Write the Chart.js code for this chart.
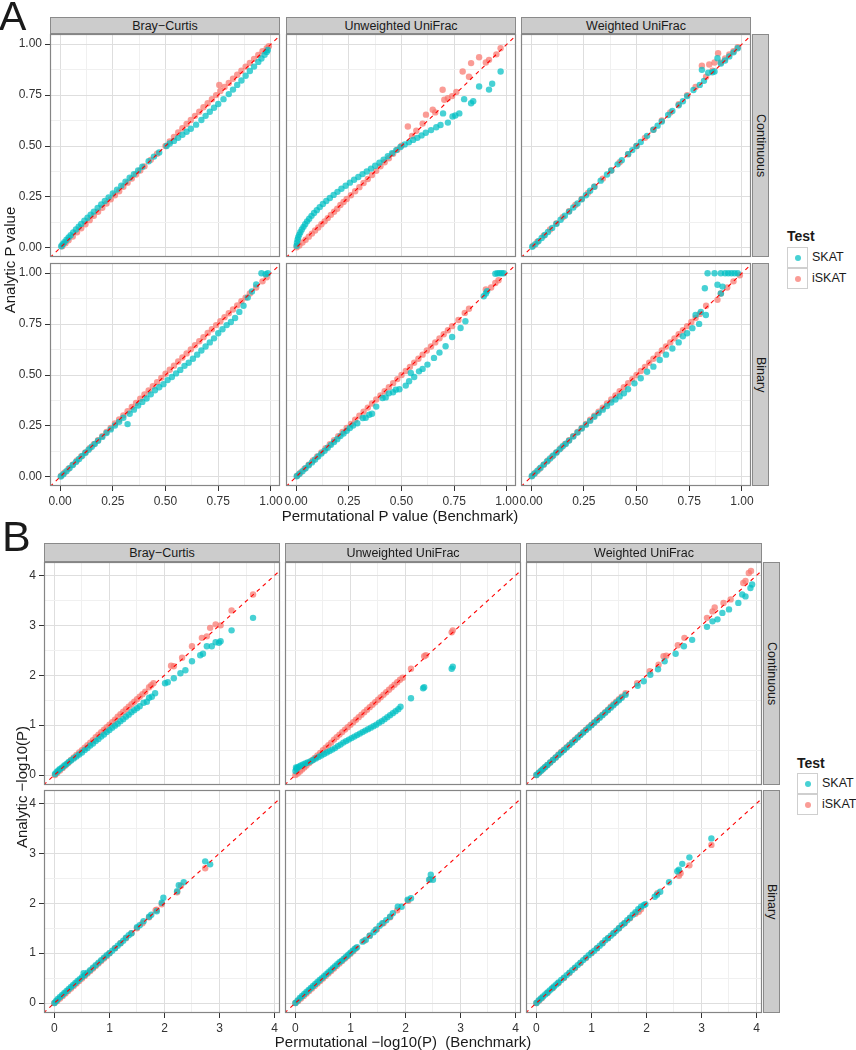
<!DOCTYPE html>
<html>
<head>
<meta charset="utf-8">
<script src="https://cdn.jsdelivr.net/npm/chart.js@4.4.1/dist/chart.umd.min.js"></script>
<style>
  body { margin: 0; width: 856px; height: 1050px; position: relative; overflow: hidden; background: #fff;
         font-family: "Liberation Sans", Arial, sans-serif; color: #1a1a1a; }
  canvas { position: absolute; }
  .t { position: absolute; white-space: nowrap; }
  .strip { position: absolute; box-sizing: border-box; background: #cccccc; border: 1px solid #8a8a8a;
           font-size: 12.5px; display: flex; align-items: center; justify-content: center; }
  .vstrip { writing-mode: vertical-rl; }
  .key { position: absolute; box-sizing: border-box; width: 21px; height: 21px; border: 1px solid #cfcfcf; background: #fff; }
  .dot { position: absolute; width: 6px; height: 6px; border-radius: 50%; left: 7px; top: 7px; }
</style>
</head>
<body>
<script>
// facet labels and ticks
const methods = ["Bray\u2212Curtis", "Unweighted UniFrac", "Weighted UniFrac"];
const outcomes = ["Continuous", "Binary"];
const testNames = ["SKAT", "iSKAT"];
const pTicks = [0, 0.25, 0.5, 0.75, 1];
const pTickLabels = ["0.00", "0.25", "0.50", "0.75", "1.00"];
const logTicks = [0, 1, 2, 3, 4];
const logTickLabels = ["0", "1", "2", "3", "4"];

// A: P values, continuous outcome
const aBcContSkat = [[0.005,0.008],[0.012,0.018],[0.02,0.028],[0.03,0.04],[0.04,0.051],[0.05,0.062],[0.062,0.076],[0.075,0.09],[0.088,0.104],[0.1,0.117],[0.115,0.133],[0.13,0.148],[0.145,0.163],[0.16,0.178],[0.178,0.196],[0.195,0.213],[0.212,0.23],[0.23,0.248],[0.25,0.267],[0.27,0.286],[0.29,0.305],[0.31,0.325],[0.33,0.344],[0.35,0.362],[0.37,0.38],[0.39,0.398],[0.42,0.425],[0.445,0.448],[0.47,0.468],[0.505,0.5],[0.52,0.512],[0.54,0.525],[0.56,0.54],[0.58,0.555],[0.6,0.57],[0.62,0.585],[0.645,0.605],[0.67,0.628],[0.69,0.648],[0.71,0.668],[0.73,0.688],[0.75,0.706],[0.775,0.73],[0.8,0.755],[0.82,0.777],[0.84,0.8],[0.86,0.822],[0.88,0.845],[0.9,0.868],[0.92,0.89],[0.94,0.913],[0.955,0.93],[0.97,0.948],[0.98,0.962],[0.985,0.972]];
const aBcContIskat = [[0.01,0.008],[0.025,0.022],[0.04,0.037],[0.06,0.056],[0.08,0.076],[0.1,0.096],[0.12,0.116],[0.14,0.136],[0.16,0.157],[0.18,0.177],[0.2,0.197],[0.22,0.218],[0.24,0.238],[0.26,0.258],[0.28,0.278],[0.3,0.3],[0.32,0.32],[0.34,0.34],[0.36,0.36],[0.38,0.38],[0.4,0.4],[0.43,0.432],[0.46,0.462],[0.5,0.5],[0.52,0.522],[0.54,0.545],[0.56,0.566],[0.58,0.587],[0.6,0.608],[0.62,0.628],[0.64,0.648],[0.66,0.668],[0.68,0.69],[0.7,0.71],[0.72,0.73],[0.74,0.75],[0.755,0.8],[0.76,0.77],[0.78,0.79],[0.8,0.81],[0.82,0.83],[0.84,0.85],[0.86,0.87],[0.88,0.89],[0.9,0.908],[0.92,0.928],[0.94,0.947],[0.96,0.965],[0.98,0.98],[0.99,0.99]];
const aUuContSkat = [[0.002,0.01],[0.004,0.025],[0.007,0.04],[0.01,0.052],[0.015,0.065],[0.02,0.077],[0.027,0.09],[0.035,0.103],[0.043,0.116],[0.052,0.13],[0.062,0.143],[0.073,0.157],[0.085,0.171],[0.098,0.185],[0.112,0.2],[0.127,0.215],[0.143,0.23],[0.16,0.245],[0.178,0.26],[0.196,0.275],[0.215,0.29],[0.235,0.305],[0.255,0.32],[0.275,0.334],[0.295,0.348],[0.315,0.362],[0.335,0.375],[0.355,0.389],[0.375,0.403],[0.395,0.418],[0.415,0.433],[0.435,0.45],[0.455,0.465],[0.475,0.48],[0.495,0.495],[0.515,0.508],[0.535,0.518],[0.555,0.53],[0.575,0.54],[0.595,0.552],[0.615,0.565],[0.64,0.578],[0.665,0.592],[0.685,0.603],[0.697,0.66],[0.72,0.615],[0.742,0.645],[0.755,0.65],[0.774,0.66],[0.797,0.73],[0.83,0.71],[0.84,0.72],[0.868,0.792],[0.915,0.777],[0.93,0.806],[0.97,0.866]];
const aUuContIskat = [[0.003,0.003],[0.015,0.012],[0.03,0.026],[0.045,0.04],[0.06,0.055],[0.075,0.07],[0.09,0.085],[0.105,0.1],[0.12,0.116],[0.135,0.13],[0.15,0.146],[0.165,0.162],[0.18,0.177],[0.195,0.192],[0.21,0.21],[0.225,0.225],[0.24,0.24],[0.26,0.258],[0.28,0.278],[0.3,0.298],[0.32,0.318],[0.34,0.338],[0.36,0.358],[0.38,0.378],[0.4,0.4],[0.42,0.42],[0.44,0.44],[0.46,0.462],[0.48,0.482],[0.5,0.502],[0.53,0.596],[0.55,0.55],[0.57,0.575],[0.6,0.61],[0.616,0.654],[0.648,0.678],[0.66,0.665],[0.695,0.776],[0.703,0.727],[0.72,0.735],[0.74,0.745],[0.76,0.765],[0.79,0.866],[0.82,0.84],[0.83,0.907],[0.868,0.936],[0.9,0.91],[0.915,0.923],[0.95,0.95],[0.97,0.98]];
const aWuContSkat = [[0.005,0.005],[0.02,0.018],[0.035,0.033],[0.05,0.048],[0.065,0.063],[0.08,0.078],[0.1,0.098],[0.12,0.118],[0.14,0.138],[0.16,0.158],[0.18,0.178],[0.2,0.198],[0.22,0.218],[0.24,0.238],[0.26,0.258],[0.28,0.28],[0.3,0.3],[0.33,0.33],[0.36,0.36],[0.38,0.38],[0.41,0.41],[0.43,0.43],[0.46,0.46],[0.48,0.48],[0.5,0.5],[0.52,0.52],[0.55,0.55],[0.58,0.58],[0.6,0.6],[0.62,0.62],[0.65,0.652],[0.67,0.672],[0.7,0.7],[0.72,0.72],[0.74,0.745],[0.77,0.775],[0.8,0.8],[0.81,0.874],[0.82,0.82],[0.84,0.86],[0.86,0.862],[0.87,0.866],[0.884,0.931],[0.9,0.905],[0.92,0.92],[0.94,0.94],[0.96,0.96],[0.98,0.98]];
const aWuContIskat = [[0.01,0.01],[0.03,0.03],[0.06,0.06],[0.09,0.09],[0.12,0.12],[0.15,0.15],[0.18,0.18],[0.21,0.21],[0.24,0.24],[0.27,0.27],[0.3,0.3],[0.34,0.34],[0.38,0.38],[0.42,0.42],[0.46,0.46],[0.5,0.5],[0.54,0.54],[0.58,0.58],[0.62,0.625],[0.66,0.665],[0.7,0.705],[0.74,0.75],[0.78,0.79],[0.81,0.894],[0.83,0.84],[0.845,0.9],[0.86,0.87],[0.87,0.91],[0.887,0.956],[0.9,0.91],[0.92,0.93],[0.94,0.95],[0.96,0.965],[0.98,0.985]];

// A: P values, binary outcome
const aBcBinSkat = [[0.003,0.002],[0.015,0.013],[0.03,0.028],[0.045,0.043],[0.06,0.058],[0.075,0.073],[0.09,0.088],[0.105,0.103],[0.12,0.118],[0.135,0.133],[0.15,0.148],[0.165,0.162],[0.18,0.177],[0.2,0.196],[0.22,0.215],[0.24,0.233],[0.26,0.252],[0.28,0.27],[0.3,0.29],[0.32,0.259],[0.33,0.31],[0.35,0.33],[0.37,0.35],[0.39,0.368],[0.41,0.385],[0.43,0.405],[0.45,0.425],[0.47,0.44],[0.49,0.455],[0.51,0.475],[0.53,0.49],[0.55,0.508],[0.57,0.525],[0.59,0.545],[0.61,0.56],[0.63,0.58],[0.65,0.6],[0.67,0.62],[0.69,0.64],[0.71,0.66],[0.73,0.68],[0.75,0.705],[0.77,0.725],[0.79,0.745],[0.81,0.76],[0.83,0.78],[0.85,0.81],[0.87,0.84],[0.89,0.88],[0.91,0.91],[0.93,0.945],[0.955,1.0],[0.975,0.995],[0.985,1.0]];
const aBcBinIskat = [[0.005,0.005],[0.02,0.02],[0.04,0.04],[0.06,0.06],[0.08,0.08],[0.1,0.1],[0.12,0.12],[0.14,0.14],[0.16,0.16],[0.18,0.18],[0.2,0.2],[0.22,0.22],[0.24,0.24],[0.26,0.262],[0.28,0.282],[0.3,0.302],[0.32,0.322],[0.34,0.343],[0.36,0.363],[0.38,0.384],[0.4,0.404],[0.42,0.424],[0.44,0.445],[0.46,0.465],[0.48,0.486],[0.5,0.506],[0.52,0.526],[0.54,0.546],[0.56,0.566],[0.58,0.586],[0.6,0.606],[0.62,0.626],[0.64,0.646],[0.66,0.666],[0.68,0.686],[0.7,0.706],[0.72,0.725],[0.74,0.745],[0.76,0.764],[0.78,0.784],[0.8,0.803],[0.82,0.822],[0.84,0.842],[0.86,0.862],[0.88,0.88],[0.9,0.9],[0.93,0.93],[0.96,0.96],[0.98,0.98]];
const aUuBinSkat = [[0.003,0.003],[0.015,0.014],[0.03,0.028],[0.045,0.042],[0.06,0.057],[0.075,0.071],[0.09,0.085],[0.105,0.1],[0.12,0.114],[0.135,0.128],[0.15,0.143],[0.165,0.157],[0.18,0.171],[0.195,0.185],[0.21,0.2],[0.225,0.213],[0.24,0.226],[0.255,0.24],[0.27,0.252],[0.29,0.263],[0.316,0.289],[0.33,0.29],[0.347,0.305],[0.36,0.31],[0.38,0.345],[0.41,0.387],[0.425,0.39],[0.44,0.41],[0.46,0.415],[0.473,0.428],[0.49,0.43],[0.52,0.448],[0.536,0.469],[0.544,0.51],[0.56,0.49],[0.583,0.518],[0.6,0.53],[0.623,0.551],[0.654,0.584],[0.68,0.61],[0.709,0.641],[0.74,0.687],[0.78,0.731],[0.803,0.764],[0.89,0.887],[0.9,0.9],[0.906,0.912],[0.945,0.997],[0.955,1.0],[0.965,1.0],[0.975,1.0],[0.985,1.0]];
const aUuBinIskat = [[0.005,0.005],[0.02,0.02],[0.04,0.04],[0.06,0.06],[0.08,0.08],[0.1,0.1],[0.12,0.12],[0.14,0.14],[0.16,0.16],[0.18,0.18],[0.2,0.2],[0.22,0.22],[0.24,0.24],[0.26,0.26],[0.28,0.28],[0.3,0.3],[0.32,0.32],[0.34,0.34],[0.36,0.36],[0.38,0.38],[0.4,0.4],[0.42,0.42],[0.44,0.44],[0.46,0.46],[0.48,0.48],[0.5,0.5],[0.52,0.52],[0.54,0.54],[0.56,0.56],[0.58,0.58],[0.6,0.6],[0.62,0.62],[0.64,0.64],[0.66,0.66],[0.68,0.68],[0.7,0.7],[0.72,0.72],[0.74,0.74],[0.77,0.77],[0.8,0.805],[0.82,0.825],[0.9,0.92],[0.925,0.93],[0.945,0.952],[0.96,0.965]];
const aWuBinSkat = [[0.003,0.003],[0.015,0.015],[0.03,0.03],[0.045,0.045],[0.06,0.06],[0.075,0.075],[0.09,0.09],[0.105,0.105],[0.12,0.12],[0.135,0.135],[0.15,0.15],[0.165,0.163],[0.18,0.178],[0.2,0.198],[0.22,0.218],[0.24,0.237],[0.26,0.256],[0.28,0.275],[0.3,0.295],[0.32,0.313],[0.34,0.33],[0.36,0.348],[0.38,0.365],[0.4,0.38],[0.42,0.395],[0.44,0.41],[0.46,0.43],[0.49,0.459],[0.52,0.484],[0.55,0.516],[0.58,0.541],[0.61,0.574],[0.64,0.6],[0.67,0.63],[0.7,0.66],[0.72,0.69],[0.74,0.705],[0.765,0.73],[0.78,0.795],[0.797,0.751],[0.805,0.81],[0.824,0.926],[0.829,0.795],[0.837,1.0],[0.87,1.0],[0.884,0.943],[0.9,1.0],[0.9,0.9],[0.908,0.934],[0.92,1.0],[0.935,1.0],[0.95,1.0],[0.965,1.0],[0.98,1.0]];
const aWuBinIskat = [[0.005,0.005],[0.02,0.02],[0.04,0.04],[0.06,0.06],[0.08,0.08],[0.1,0.1],[0.12,0.12],[0.14,0.14],[0.16,0.16],[0.18,0.18],[0.2,0.2],[0.22,0.22],[0.24,0.24],[0.26,0.26],[0.28,0.28],[0.3,0.3],[0.32,0.32],[0.34,0.34],[0.36,0.36],[0.38,0.38],[0.4,0.4],[0.42,0.42],[0.44,0.44],[0.46,0.46],[0.48,0.48],[0.5,0.5],[0.52,0.52],[0.54,0.54],[0.56,0.56],[0.58,0.58],[0.6,0.6],[0.62,0.62],[0.64,0.64],[0.66,0.66],[0.68,0.68],[0.7,0.7],[0.72,0.72],[0.74,0.74],[0.76,0.76],[0.78,0.78],[0.8,0.8],[0.83,0.84],[0.884,0.869],[0.9,0.9],[0.93,0.93],[0.96,0.96],[0.99,0.99]];

// B: -log10(P), continuous outcome
const bBcContSkat = [[0.01,0.02],[0.04,0.06],[0.07,0.09],[0.1,0.12],[0.14,0.15],[0.18,0.19],[0.22,0.22],[0.26,0.26],[0.3,0.29],[0.35,0.33],[0.4,0.37],[0.45,0.41],[0.5,0.45],[0.55,0.5],[0.6,0.54],[0.65,0.59],[0.7,0.63],[0.75,0.68],[0.8,0.72],[0.85,0.77],[0.9,0.81],[0.95,0.86],[1.0,0.9],[1.05,0.95],[1.1,0.99],[1.15,1.03],[1.2,1.08],[1.25,1.12],[1.3,1.17],[1.35,1.21],[1.4,1.26],[1.45,1.3],[1.5,1.34],[1.55,1.38],[1.62,1.45],[1.68,1.47],[1.72,1.55],[1.77,1.57],[1.83,1.64],[2.01,1.84],[2.06,1.86],[2.17,1.94],[2.29,2.04],[2.38,2.1],[2.5,2.28],[2.65,2.4],[2.7,2.43],[2.77,2.58],[2.86,2.58],[2.93,2.66],[2.99,2.65],[3.02,2.68],[3.22,2.9],[3.61,3.15]];
const bBcContIskat = [[0.01,0.0],[0.05,0.04],[0.1,0.09],[0.15,0.14],[0.2,0.19],[0.25,0.24],[0.3,0.3],[0.35,0.35],[0.4,0.4],[0.45,0.45],[0.5,0.5],[0.55,0.55],[0.6,0.6],[0.65,0.65],[0.7,0.7],[0.75,0.76],[0.8,0.81],[0.85,0.86],[0.9,0.91],[0.95,0.96],[1.0,1.01],[1.05,1.06],[1.1,1.11],[1.15,1.17],[1.2,1.22],[1.25,1.27],[1.3,1.32],[1.35,1.37],[1.4,1.42],[1.45,1.47],[1.5,1.52],[1.55,1.57],[1.6,1.62],[1.65,1.67],[1.72,1.76],[1.76,1.8],[1.8,1.84],[2.12,2.19],[2.17,2.18],[2.32,2.35],[2.5,2.58],[2.68,2.75],[2.77,2.78],[2.83,2.95],[2.93,3.02],[3.02,3.0],[3.22,3.3],[3.61,3.62]];
const bUuContSkat = [[0.0,0.08],[0.01,0.15],[0.02,0.12],[0.04,0.15],[0.07,0.17],[0.1,0.19],[0.14,0.21],[0.18,0.23],[0.22,0.25],[0.27,0.27],[0.32,0.3],[0.37,0.33],[0.42,0.36],[0.47,0.39],[0.52,0.42],[0.57,0.45],[0.62,0.48],[0.67,0.51],[0.72,0.54],[0.77,0.58],[0.82,0.61],[0.87,0.65],[0.92,0.68],[0.97,0.71],[1.02,0.74],[1.07,0.77],[1.12,0.8],[1.17,0.83],[1.22,0.86],[1.27,0.89],[1.32,0.92],[1.37,0.95],[1.42,0.98],[1.47,1.01],[1.52,1.05],[1.57,1.08],[1.62,1.12],[1.67,1.16],[1.72,1.2],[1.77,1.24],[1.82,1.28],[1.87,1.32],[1.91,1.37],[2.1,1.54],[2.32,1.74],[2.34,1.76],[2.84,2.13],[2.86,2.17]];
const bUuContIskat = [[0.0,0.0],[0.04,0.03],[0.08,0.07],[0.12,0.11],[0.16,0.15],[0.2,0.19],[0.25,0.24],[0.3,0.29],[0.35,0.34],[0.4,0.39],[0.45,0.44],[0.5,0.5],[0.55,0.55],[0.6,0.6],[0.65,0.65],[0.7,0.71],[0.75,0.76],[0.8,0.81],[0.85,0.86],[0.9,0.91],[0.95,0.96],[1.0,1.01],[1.05,1.06],[1.1,1.11],[1.15,1.16],[1.2,1.21],[1.25,1.26],[1.3,1.31],[1.35,1.36],[1.4,1.41],[1.45,1.46],[1.5,1.51],[1.55,1.56],[1.6,1.61],[1.65,1.66],[1.7,1.71],[1.75,1.76],[1.8,1.81],[1.85,1.86],[1.9,1.91],[1.95,1.95],[2.1,2.13],[2.34,2.38],[2.37,2.4],[2.84,2.86],[2.86,2.9]];
const bWuContSkat = [[0.0,0.0],[0.04,0.04],[0.08,0.08],[0.12,0.12],[0.16,0.16],[0.2,0.2],[0.25,0.25],[0.3,0.3],[0.35,0.35],[0.4,0.4],[0.45,0.45],[0.5,0.5],[0.55,0.55],[0.6,0.6],[0.65,0.65],[0.7,0.7],[0.75,0.75],[0.8,0.8],[0.85,0.85],[0.9,0.9],[0.95,0.95],[1.0,1.0],[1.05,1.05],[1.1,1.1],[1.15,1.15],[1.2,1.2],[1.25,1.25],[1.3,1.3],[1.35,1.35],[1.4,1.4],[1.45,1.45],[1.5,1.5],[1.55,1.55],[1.62,1.61],[1.84,1.79],[1.95,1.88],[2.07,2.01],[2.21,2.12],[2.33,2.28],[2.53,2.43],[2.68,2.58],[2.83,2.71],[3.1,2.97],[3.2,3.08],[3.29,3.12],[3.38,3.25],[3.5,3.32],[3.67,3.45],[3.74,3.62],[3.8,3.58],[3.89,3.75],[3.92,3.82]];
const bWuContIskat = [[0.0,0.0],[0.05,0.05],[0.1,0.1],[0.15,0.15],[0.2,0.2],[0.25,0.25],[0.3,0.3],[0.35,0.35],[0.4,0.41],[0.45,0.46],[0.5,0.51],[0.55,0.56],[0.6,0.61],[0.65,0.66],[0.7,0.71],[0.75,0.76],[0.8,0.81],[0.85,0.86],[0.9,0.91],[0.95,0.96],[1.0,1.01],[1.05,1.06],[1.1,1.11],[1.15,1.16],[1.2,1.21],[1.25,1.26],[1.3,1.31],[1.35,1.37],[1.4,1.42],[1.45,1.47],[1.5,1.52],[1.55,1.57],[1.62,1.64],[1.83,1.84],[2.06,2.08],[2.22,2.21],[2.31,2.38],[2.36,2.39],[2.57,2.6],[2.69,2.75],[3.1,3.15],[3.2,3.28],[3.24,3.36],[3.4,3.45],[3.53,3.52],[3.76,3.85],[3.8,3.89],[3.86,4.05],[3.9,4.09]];

// B: -log10(P), binary outcome
const bBcBinSkat = [[0.0,0.0],[0.03,0.04],[0.06,0.08],[0.1,0.12],[0.14,0.16],[0.18,0.2],[0.22,0.24],[0.26,0.28],[0.3,0.32],[0.34,0.36],[0.38,0.4],[0.42,0.44],[0.46,0.48],[0.5,0.52],[0.53,0.6],[0.55,0.56],[0.6,0.61],[0.65,0.66],[0.7,0.71],[0.75,0.76],[0.8,0.81],[0.85,0.86],[0.9,0.91],[0.95,0.96],[1.0,1.0],[1.05,1.05],[1.1,1.1],[1.15,1.15],[1.2,1.2],[1.25,1.25],[1.3,1.31],[1.35,1.36],[1.4,1.4],[1.5,1.52],[1.55,1.56],[1.62,1.64],[1.72,1.73],[1.76,1.77],[1.86,1.84],[1.95,2.01],[1.98,2.11],[2.23,2.24],[2.26,2.36],[2.35,2.42],[2.74,2.84],[2.83,2.78]];
const bBcBinIskat = [[0.0,0.0],[0.05,0.04],[0.1,0.09],[0.15,0.14],[0.2,0.19],[0.25,0.24],[0.3,0.29],[0.35,0.34],[0.4,0.39],[0.45,0.44],[0.5,0.49],[0.55,0.54],[0.6,0.59],[0.65,0.64],[0.7,0.69],[0.75,0.74],[0.8,0.79],[0.85,0.84],[0.9,0.89],[0.95,0.94],[1.0,1.0],[1.1,1.1],[1.2,1.2],[1.3,1.3],[1.4,1.4],[1.5,1.5],[1.6,1.6],[1.72,1.72],[1.84,1.86],[1.86,1.87],[1.95,1.98],[2.23,2.22],[2.3,2.35],[2.74,2.7]];
const bUuBinSkat = [[0.0,0.0],[0.04,0.05],[0.08,0.1],[0.12,0.14],[0.16,0.18],[0.2,0.22],[0.24,0.26],[0.28,0.3],[0.32,0.34],[0.36,0.38],[0.4,0.42],[0.44,0.46],[0.48,0.5],[0.52,0.54],[0.56,0.58],[0.6,0.62],[0.64,0.66],[0.68,0.7],[0.72,0.74],[0.76,0.78],[0.8,0.82],[0.84,0.85],[0.88,0.89],[0.92,0.93],[0.96,0.97],[1.0,1.01],[1.04,1.05],[1.08,1.09],[1.12,1.12],[1.22,1.23],[1.28,1.27],[1.35,1.35],[1.42,1.42],[1.46,1.47],[1.53,1.55],[1.58,1.6],[1.65,1.66],[1.72,1.73],[1.77,1.8],[1.86,1.93],[1.93,1.93],[2.04,2.07],[2.1,2.1],[2.43,2.47],[2.46,2.57],[2.5,2.47]];
const bUuBinIskat = [[0.0,0.0],[0.05,0.04],[0.1,0.09],[0.15,0.14],[0.2,0.19],[0.25,0.24],[0.3,0.29],[0.35,0.34],[0.4,0.39],[0.45,0.44],[0.5,0.49],[0.55,0.54],[0.6,0.59],[0.65,0.64],[0.7,0.69],[0.75,0.74],[0.8,0.79],[0.85,0.84],[0.9,0.89],[0.95,0.94],[1.0,0.99],[1.05,1.04],[1.1,1.1],[1.25,1.25],[1.35,1.35],[1.48,1.48],[1.6,1.6],[1.72,1.72],[1.85,1.86],[2.05,2.05],[2.45,2.48]];
const bWuBinSkat = [[0.0,0.0],[0.04,0.05],[0.08,0.09],[0.12,0.13],[0.16,0.17],[0.2,0.21],[0.24,0.25],[0.28,0.29],[0.32,0.33],[0.36,0.37],[0.4,0.41],[0.45,0.46],[0.5,0.51],[0.55,0.56],[0.6,0.61],[0.65,0.66],[0.7,0.71],[0.75,0.76],[0.8,0.81],[0.85,0.86],[0.9,0.91],[0.95,0.96],[1.0,1.01],[1.05,1.05],[1.1,1.1],[1.15,1.15],[1.2,1.2],[1.25,1.26],[1.3,1.3],[1.35,1.35],[1.4,1.4],[1.45,1.45],[1.5,1.5],[1.55,1.56],[1.6,1.6],[1.65,1.66],[1.7,1.71],[1.75,1.77],[1.8,1.82],[1.85,1.88],[1.9,1.93],[1.95,1.96],[1.98,1.98],[2.15,2.13],[2.19,2.17],[2.25,2.23],[2.41,2.42],[2.56,2.64],[2.59,2.67],[2.65,2.79],[2.78,2.92],[3.18,3.3]];
const bWuBinIskat = [[0.0,0.0],[0.05,0.05],[0.1,0.1],[0.2,0.2],[0.3,0.3],[0.4,0.4],[0.5,0.5],[0.6,0.6],[0.7,0.7],[0.8,0.8],[0.9,0.9],[1.0,1.0],[1.1,1.1],[1.2,1.2],[1.3,1.3],[1.4,1.4],[1.5,1.5],[1.6,1.6],[1.7,1.7],[1.8,1.79],[1.86,1.83],[1.9,1.88],[2.2,2.2],[2.59,2.55],[2.62,2.6],[2.78,2.76],[3.18,3.17]];

const SKAT_COL = "rgba(0,191,196,0.72)";
const ISKAT_COL = "rgba(248,118,109,0.72)";
Chart.defaults.font.family = '"Liberation Sans", Arial, sans-serif';

const figA = {
  cols: [[50, 280], [286, 516], [521, 751]], rows: [[34, 257], [263, 486]],
  stripTop: 17, stripRight: [752, 769], yAxisW: 50, xAxisH: 24,
  xr: [-0.048, 1.043], yr: [-0.045, 1.05], ticks: pTicks, labels: pTickLabels,
  data: [[[aBcContSkat, aBcContIskat], [aUuContSkat, aUuContIskat], [aWuContSkat, aWuContIskat]],
         [[aBcBinSkat, aBcBinIskat], [aUuBinSkat, aUuBinIskat], [aWuBinSkat, aWuBinIskat]]]
};
const figB = {
  cols: [[44, 280], [285, 521], [526, 762]], rows: [[562, 785], [790, 1013]],
  stripTop: 543, stripRight: [763, 780], yAxisW: 44, xAxisH: 24,
  xr: [-0.19, 4.1], yr: [-0.2, 4.27], ticks: logTicks, labels: logTickLabels,
  data: [[[bBcContSkat, bBcContIskat], [bUuContSkat, bUuContIskat], [bWuContSkat, bWuContIskat]],
         [[bBcBinSkat, bBcBinIskat], [bUuBinSkat, bUuBinIskat], [bWuBinSkat, bWuBinIskat]]]
};

// grey panel border
const frame = {
  id: "frame",
  afterDraw(chart) {
    const a = chart.chartArea, c = chart.ctx;
    c.save();
    c.strokeStyle = "#858585";
    c.lineWidth = 1.2;
    c.strokeRect(a.left + 0.5, a.top + 0.5, a.right - a.left - 1, a.bottom - a.top - 1);
    c.restore();
  }
};

function addText(html, css, cls) {
  const d = document.createElement("div");
  d.className = cls || "t";
  d.style.cssText = css;
  d.innerHTML = html;
  document.body.appendChild(d);
  return d;
}

function axis(fig, isX, show, size) {
  const major = fig.ticks;
  const minor = [];
  for (let i = 0; i < major.length - 1; i++) minor.push((major[i] + major[i + 1]) / 2);
  const idx = v => major.findIndex(t => Math.abs(t - v) < 1e-9);
  const rng = isX ? fig.xr : fig.yr;
  return {
    type: "linear", min: rng[0], max: rng[1],
    afterBuildTicks: s => { s.ticks = major.concat(minor).sort((a, b) => a - b).map(v => ({ value: v })); },
    afterFit: s => {
      if (isX) s.height = size; else s.width = size;
      s.paddingLeft = s.paddingRight = s.paddingTop = s.paddingBottom = 0;
    },
    ticks: {
      display: show, autoSkip: false, maxRotation: 0, minRotation: 0, padding: 3,
      color: "#333", font: { size: 12 },
      callback: v => { const i = idx(v); return i < 0 ? "" : fig.labels[i]; }
    },
    grid: {
      drawTicks: show, tickLength: 5, tickWidth: 1, lineWidth: 1,
      tickColor: ctx => (ctx.tick && idx(ctx.tick.value) >= 0) ? "#333" : "rgba(0,0,0,0)",
      color: ctx => (ctx.tick && idx(ctx.tick.value) >= 0) ? "#dedede" : "#f0f0f0"
    },
    border: { display: false }
  };
}

function makePanel(fig, r, c) {
  const [x0, x1] = fig.cols[c];
  const [y0, y1] = fig.rows[r];
  const showY = c === 0, showX = r === fig.rows.length - 1;
  const yw = showY ? fig.yAxisW : 0;
  const xh = showX ? fig.xAxisH : 0;
  const m = 14;
  const W = x1 - x0 + yw + 2 * m, H = y1 - y0 + xh + 2 * m;
  const cv = document.createElement("canvas");
  cv.width = W; cv.height = H;
  cv.style.cssText = `left:${x0 - yw - m}px;top:${y0 - m}px;width:${W}px;height:${H}px`;
  document.body.appendChild(cv);
  const [skat, iskat] = fig.data[r][c];
  const lo = Math.min(fig.xr[0], fig.yr[0]), hi = Math.max(fig.xr[1], fig.yr[1]);
  new Chart(cv, {
    type: "scatter",
    data: {
      datasets: [
        { type: "line", data: [[lo, lo], [hi, hi]], borderColor: "#ff0000", borderWidth: 1.1,
          borderDash: [4, 4], pointRadius: 0, fill: false },
        { label: testNames[0], data: skat, backgroundColor: SKAT_COL, pointRadius: 3.2, borderWidth: 0 },
        { label: testNames[1], data: iskat, backgroundColor: ISKAT_COL, pointRadius: 3.2, borderWidth: 0 }
      ]
    },
    options: {
      responsive: false, animation: false, events: [],
      layout: { padding: m },
      plugins: { legend: { display: false }, tooltip: { enabled: false } },
      scales: { x: axis(fig, true, showX, xh), y: axis(fig, false, showY, yw) }
    },
    plugins: [frame]
  });
}

function makeFigure(fig) {
  fig.cols.forEach(([x0, x1], c) => {
    addText(methods[c], `left:${x0}px;top:${fig.stripTop}px;width:${x1 - x0}px;height:${fig.rows[0][0] - fig.stripTop}px`, "strip");
  });
  fig.rows.forEach(([y0, y1], r) => {
    addText(outcomes[r], `left:${fig.stripRight[0]}px;top:${y0}px;width:${fig.stripRight[1] - fig.stripRight[0]}px;height:${y1 - y0}px`, "strip vstrip");
  });
  for (let r = 0; r < fig.rows.length; r++)
    for (let c = 0; c < fig.cols.length; c++) makePanel(fig, r, c);
}

function makeLegend(x, titleY, keyTop) {
  addText("Test", `left:${x}px;top:${titleY - 9}px;font-size:14px;font-weight:bold;line-height:18px`);
  [SKAT_COL, ISKAT_COL].forEach((col, i) => {
    addText(`<div class="dot" style="background:${col}"></div>`, `left:${x}px;top:${keyTop + i * 21}px`, "key");
    addText(testNames[i], `left:${x + 25}px;top:${keyTop + i * 21 + 3}px;font-size:12.5px;line-height:15px`);
  });
}

makeFigure(figA);
makeFigure(figB);

// panel letters
addText("A", "left:-1px;top:-4px;font-size:41px;line-height:41px");
addText("B", "left:2px;top:515px;font-size:43px;line-height:43px");

// axis titles
addText("Analytic P value", "left:9px;top:260px;font-size:15px;transform:translate(-50%,-50%) rotate(-90deg)");
addText("Permutational P value (Benchmark)", "left:400px;top:515px;font-size:15px;transform:translate(-50%,-50%)");
addText("Analytic \u2212log10(P)", "left:21px;top:787px;font-size:15px;transform:translate(-50%,-50%) rotate(-90deg)");
addText("Permutational \u2212log10(P)&nbsp; (Benchmark)", "left:403px;top:1041px;font-size:15px;transform:translate(-50%,-50%)");

// legends
makeLegend(787, 236, 247);
makeLegend(797, 763, 773);
</script>
</body>
</html>
